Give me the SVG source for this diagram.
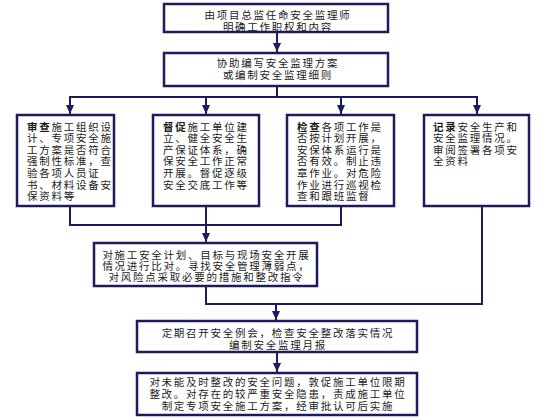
<svg xmlns="http://www.w3.org/2000/svg" width="560" height="420" viewBox="0 0 560 420">
<defs>
<style>
.box{fill:#ffffff;stroke:#1c1c5c;stroke-width:2.5}
.ln{fill:none;stroke:#1c1c5c;stroke-width:2}
text{font-family:"Liberation Sans","Noto Sans CJK SC",sans-serif;font-size:10.5px;fill:#1a1a1a;letter-spacing:1.75px}
.c{text-anchor:middle}
.b{font-weight:bold}
</style>
<marker id="ad" markerUnits="userSpaceOnUse" markerWidth="8" markerHeight="9" refX="4" refY="9" orient="0" viewBox="0 0 8 9">
<path d="M0,0 L8,0 L4,9 Z" fill="#1c1c5c"/>
</marker>
</defs>
<rect width="560" height="420" fill="#ffffff"/>
<g id="connectors">
<line class="ln" x1="277" y1="33" x2="277" y2="52" marker-end="url(#ad)"/>
<polyline class="ln" points="277,87 277,97"/>
<polyline class="ln" points="70,105 70,97 477,97 477,105"/>
<line class="ln" x1="70" y1="97" x2="70" y2="114" marker-end="url(#ad)"/>
<line class="ln" x1="206" y1="97" x2="206" y2="114" marker-end="url(#ad)"/>
<line class="ln" x1="341" y1="97" x2="341" y2="114" marker-end="url(#ad)"/>
<line class="ln" x1="477" y1="97" x2="477" y2="114" marker-end="url(#ad)"/>
<polyline class="ln" points="70,207 70,225 341,225 341,207"/>
<line class="ln" x1="206" y1="207" x2="206" y2="242" marker-end="url(#ad)"/>
<polyline class="ln" points="206,287 206,304 482,304 482,207"/>
<line class="ln" x1="276" y1="304" x2="276" y2="320" marker-end="url(#ad)"/>
<line class="ln" x1="277" y1="353" x2="277" y2="372" marker-end="url(#ad)"/>
</g>
<g id="n1">
<rect class="box" x="164" y="4" width="224" height="28"/>
<text class="c" x="278" y="19.3">由项目总监任命安全监理师</text>
<text class="c" x="278" y="30.6">明确工作职权和内容</text>
</g>
<g id="n2">
<rect class="box" x="164" y="53" width="224" height="33"/>
<text class="c" x="278" y="67">协助编写安全监理方案</text>
<text class="c" x="278" y="79">或编制安全监理细则</text>
</g>
<g id="nA">
<rect class="box" x="17" y="115" width="97" height="91"/>
<text x="27" y="130.5"><tspan class="b">审查</tspan>施工组织设</text>
<text x="27" y="142.1">计、专项安全施</text>
<text x="27" y="153.7">工方案是否符合</text>
<text x="27" y="165.3">强制性标准，查</text>
<text x="27" y="176.9">验各项人员证</text>
<text x="27" y="188.5">书、材料设备安</text>
<text x="27" y="200.1">保资料等</text>
</g>
<g id="nB">
<rect class="box" x="153" y="115" width="106" height="91"/>
<text x="163" y="130.5"><tspan class="b">督促</tspan>施工单位建</text>
<text x="163" y="142.1">立、健全安全生</text>
<text x="163" y="153.7">产保证体系，确</text>
<text x="163" y="165.3">保安全工作正常</text>
<text x="163" y="176.9">开展。督促逐级</text>
<text x="163" y="188.5">安全交底工作等</text>
</g>
<g id="nC">
<rect class="box" x="287" y="115" width="107" height="91"/>
<text x="297" y="130.5"><tspan class="b">检查</tspan>各项工作是</text>
<text x="297" y="142.1">否按计划开展，</text>
<text x="297" y="153.7">安保体系运行是</text>
<text x="297" y="165.3">否有效。制止违</text>
<text x="297" y="176.9">章作业。对危险</text>
<text x="297" y="188.5">作业进行巡视检</text>
<text x="297" y="200.1">查和跟班监督</text>
</g>
<g id="nD">
<rect class="box" x="424" y="115" width="105" height="91"/>
<text x="433" y="130.5"><tspan class="b">记录</tspan>安全生产和</text>
<text x="433" y="142.1">安全监理情况。</text>
<text x="433" y="153.7">审阅签署各项安</text>
<text x="433" y="165.3">全资料</text>
</g>
<g id="nE">
<rect class="box" x="94" y="243" width="223" height="43"/>
<text class="c" x="206.5" y="259">对施工安全计划、目标与现场安全开展</text>
<text class="c" x="206.5" y="270.2">情况进行比对。寻找安全管理薄弱点，</text>
<text class="c" x="206.5" y="281.4">对风险点采取必要的措施和整改指令</text>
</g>
<g id="nF">
<rect class="box" x="137" y="321" width="280" height="31"/>
<text class="c" x="278" y="337">定期召开安全例会，检查安全整改落实情况</text>
<text class="c" x="278" y="349">编制安全监理月报</text>
</g>
<g id="nG">
<rect class="box" x="137" y="373" width="280" height="42"/>
<text class="c" x="278" y="385.8">对未能及时整改的安全问题，敦促施工单位限期</text>
<text class="c" x="278" y="398">整改。对存在的较严重安全隐患，责成施工单位</text>
<text class="c" x="278" y="410.2">制定专项安全施工方案，经审批认可后实施</text>
</g>
</svg>
